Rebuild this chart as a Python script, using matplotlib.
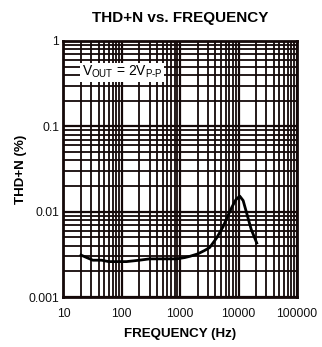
import numpy as np
import matplotlib
matplotlib.use("Agg")
from matplotlib import pyplot as plt
from matplotlib.ticker import LogLocator, FixedLocator, FixedFormatter, NullFormatter

plt.rcParams['font.family'] = ['Liberation Sans', 'DejaVu Sans']
plt.rcParams['mathtext.fontset'] = 'custom'
plt.rcParams['mathtext.rm'] = 'Liberation Sans'

# THD+N curve, read in Hz and %
freq = [20, 25, 32, 45, 60, 82, 120, 200, 300, 500, 870, 1200, 1470, 2000, 2600,
        3200, 4200, 5400, 6500, 7700, 9000, 10500, 12000, 13800, 16500, 20500]
thdn = [0.0031, 0.0029, 0.0027, 0.0027, 0.0026, 0.0026, 0.0026, 0.0027, 0.0028,
        0.0028, 0.0028, 0.0029, 0.0030, 0.0032, 0.0035, 0.0038, 0.0049, 0.0066,
        0.0088, 0.0113, 0.0138, 0.0152, 0.0135, 0.0096, 0.0062, 0.0043]

xticks = [10, 100, 1000, 10000, 100000]
xlabels = ['10', '100', '1000', '10000', '100000']
yticks = [0.001, 0.01, 0.1, 1]
ylabels = ['0.001', '0.01', '0.1', '1']

ink = '#140808'

fig = plt.figure(figsize=(3.22, 3.47), dpi=100)
ax = fig.add_axes([0.197, 0.144, 0.725, 0.738])
ax.set_xscale('log')
ax.set_yscale('log')
ax.set_xlim(10, 100000)
ax.set_ylim(0.001, 1)

ax.xaxis.set_major_locator(FixedLocator(xticks))
ax.xaxis.set_major_formatter(FixedFormatter(xlabels))
ax.yaxis.set_major_locator(FixedLocator(yticks))
ax.yaxis.set_major_formatter(FixedFormatter(ylabels))
ax.xaxis.set_minor_locator(LogLocator(base=10, subs=np.arange(2, 10)))
ax.yaxis.set_minor_locator(LogLocator(base=10, subs=np.arange(2, 10)))
ax.xaxis.set_minor_formatter(NullFormatter())
ax.yaxis.set_minor_formatter(NullFormatter())

ax.grid(which='major', color=ink, lw=1.6)
ax.grid(which='minor', color=ink, lw=1.3)
ax.set_axisbelow(True)
ax.tick_params(which='both', length=0, labelsize=8.7, colors='#111111')
ax.tick_params(axis='x', pad=8)
ax.tick_params(axis='y', pad=3)
for s in ax.spines.values():
    s.set_linewidth(2.0)
    s.set_color(ink)

ax.plot(freq, thdn, color='black', lw=2.0, zorder=3)

ax.text(20.5, 0.43, r'V$_{\mathrm{OUT}}$ = 2V$_{\mathrm{P\text{-}P}}$', fontsize=10,
        va='center', ha='left', zorder=4,
        bbox=dict(facecolor='white', edgecolor='none', pad=1.0))

fig.text(0.56, 0.948, 'THD+N vs. FREQUENCY', ha='center', va='center',
         fontsize=11, fontweight='bold')
ax.set_xlabel('FREQUENCY (Hz)', fontsize=9.6, fontweight='bold', labelpad=6)
ax.set_ylabel('THD+N (%)', fontsize=9.6, fontweight='bold', labelpad=1)

fig.savefig('out.png', dpi=100)
